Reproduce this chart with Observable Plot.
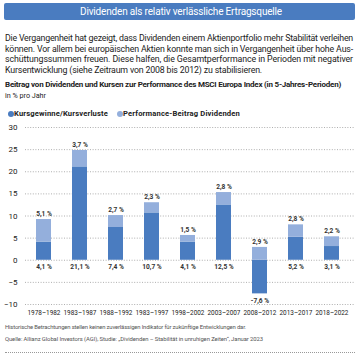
<!DOCTYPE html>
<html><head><meta charset="utf-8">
<script src="https://cdn.jsdelivr.net/npm/d3@7"></script>
<script src="https://cdn.jsdelivr.net/npm/@observablehq/plot@0.6"></script>
<style>
body{margin:0;background:#fff;font-family:Roboto,"Noto Sans",sans-serif;color:#222;width:360px;height:359px;position:relative;overflow:hidden}
.banner{position:absolute;left:4px;top:3px;width:351px;height:17px;background:#4a7cc0;border-radius:2px}
.abs{position:absolute;white-space:nowrap}
.btext{color:#fff;font-size:10px;line-height:17px;top:3px;left:80px}
.pl{font-size:8.8px;line-height:10.6px;left:5px}
.ctitle{left:5px;top:80px;font-size:8px;line-height:9px;font-weight:bold}
.unit{left:5px;top:91.5px;font-size:7.2px;line-height:8px}
.leg{top:109px;font-size:7.6px;font-weight:bold}
.sw{position:absolute;top:111px;width:6px;height:6px;border-radius:50%}
#chart{position:absolute;left:0;top:118px}
.foot{left:5px;font-size:5.9px;color:#555}
.dots{position:absolute;left:5px;top:352px;width:350px;border-top:1px dotted #999}
</style></head>
<body>
<div class="banner"></div>
<div class="abs btext" data-w="202">Dividenden als relativ verlässliche Ertragsquelle</div>
<div class="abs pl" style="top:33px" data-w="348">Die Vergangenheit hat gezeigt, dass Dividenden einem Aktienportfolio mehr Stabilität verleihen</div>
<div class="abs pl" style="top:43.6px" data-w="348">können. Vor allem bei europäischen Aktien konnte man sich in Vergangenheit über hohe Aus-</div>
<div class="abs pl" style="top:54.2px" data-w="348">schüttungssummen freuen. Diese halfen, die Gesamtperformance in Perioden mit negativer</div>
<div class="abs pl" style="top:64.8px" data-w="257">Kursentwicklung (siehe Zeitraum von 2008 bis 2012) zu stabilisieren.</div>
<div class="abs ctitle" data-w="336">Beitrag von Dividenden und Kursen zur Performance des MSCI Europa Index (in 5-Jahres-Perioden)</div>
<div class="abs unit" data-w="41">in % pro Jahr</div>
<div id="legend"></div>
<div id="chart"></div>
<div class="abs foot" style="top:324px" data-w="241">Historische Betrachtungen stellen keinen zuverlässigen Indikator für zukünftige Entwicklungen dar.</div>
<div class="abs foot" style="top:336px" data-w="258">Quelle: Allianz Global Investors (AGI), Studie: „Dividenden – Stabilität in unruhigen Zeiten“, Januar 2023</div>
<div class="dots"></div>
<script>
const periods = ["1978–1982","1983–1987","1988–1992","1983–1997","1998–2002","2003–2007","2008–2012","2013–2017","2018–2022"];
const kurs = [4.1, 21.1, 7.4, 10.7, 4.1, 12.5, -7.6, 5.2, 3.1];
const dividende = [5.1, 3.7, 2.7, 2.3, 1.5, 2.8, 2.9, 2.8, 2.2];
const seriesNames = ["Kursgewinne/Kursverluste", "Performance-Beitrag Dividenden"];
const colors = ["#4a7cc0", "#94afdc"];
const yTicks = [-10, -5, 0, 5, 10, 15, 20, 25, 30];

const fmt = v => d3.format(".1f")(v).replace("−", "-").replace(".", ",") + " %";

const rows = [];
periods.forEach((p, i) => {
  rows.push({period: p, series: seriesNames[0], value: kurs[i]});
  rows.push({period: p, series: seriesNames[1], value: dividende[i]});
});
const topLabels = periods.map((p, i) => ({period: p, y: Math.max(0, kurs[i]) + dividende[i], label: fmt(dividende[i])}));
const bottomLabels = periods.map((p, i) => ({period: p, y: Math.min(0, kurs[i]), label: fmt(kurs[i])}));

// legend
const legX = [[8, 14, 94], [117, 123, 117]];
const leg = document.getElementById("legend");
seriesNames.forEach((n, i) => {
  const sw = document.createElement("div");
  sw.className = "sw"; sw.style.left = legX[i][0] + "px"; sw.style.background = colors[i];
  leg.appendChild(sw);
  const t = document.createElement("div");
  t.className = "abs leg"; t.style.left = legX[i][1] + "px"; t.dataset.w = legX[i][2]; t.textContent = n;
  leg.appendChild(t);
});

const chart = Plot.plot({
  width: 360, height: 200,
  marginLeft: 22, marginRight: 6, marginTop: 9, marginBottom: 14,
  style: {fontFamily: "Roboto, sans-serif", fontSize: "7px", color: "#222", background: "transparent"},
  x: {domain: periods, paddingInner: 0.57, paddingOuter: 0.285, label: null},
  y: {domain: [-10, 30], label: null},
  color: {domain: seriesNames, range: colors},
  marks: [
    Plot.ruleY(yTicks, {stroke: "#9a9a9a", strokeDasharray: "1,1.6", strokeWidth: 0.8, insetLeft: 3}),
    Plot.barY(rows, Plot.stackY({x: "period", y: "value", fill: "series", order: seriesNames})),
    Plot.text(topLabels, {x: "period", y: "y", text: "label", dy: -6, fontSize: 6.6, fontWeight: "bold", fill: "#333"}),
    Plot.text(bottomLabels, {x: "period", y: "y", text: "label", dy: 7, fontSize: 6.6, fontWeight: "bold", fill: "#333"}),
    Plot.axisX({tickSize: 0, tickPadding: 6, fontSize: 6.4, label: null}),
    Plot.axisY({ticks: yTicks, tickSize: 0, tickPadding: 5, fontSize: 8, label: null, tickFormat: d => d < 0 ? "−" + Math.abs(d) : d})
  ]
});
document.getElementById("chart").appendChild(chart);

// fit text widths to match reference
document.querySelectorAll("[data-w]").forEach(el => {
  const target = +el.dataset.w;
  const w = el.getBoundingClientRect().width;
  const n = el.textContent.length;
  el.style.letterSpacing = ((target - w) / n) + "px";
});
</script>
</body></html>
